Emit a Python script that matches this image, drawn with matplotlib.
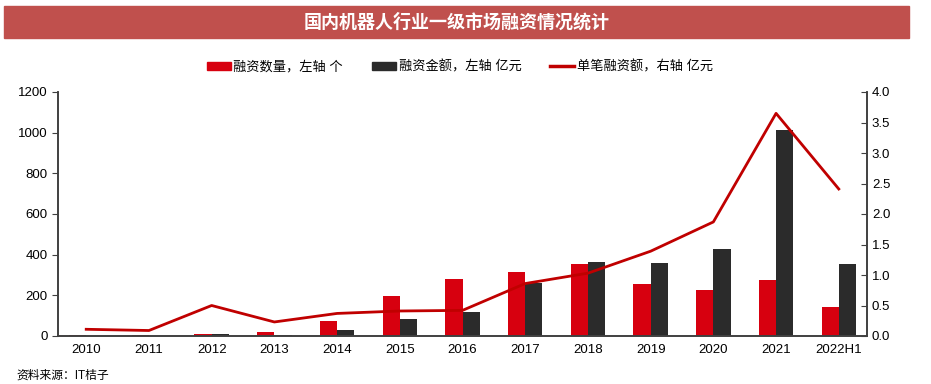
import numpy as np
import matplotlib.pyplot as plt
from matplotlib.patches import Rectangle, Patch
from matplotlib.lines import Line2D

plt.rcParams['font.family'] = ['Liberation Sans', 'Noto Sans CJK SC', 'DejaVu Sans']

# -------------------------------------------------------------------
# data
# -------------------------------------------------------------------
years = ["2010", "2011", "2012", "2013", "2014", "2015", "2016",
         "2017", "2018", "2019", "2020", "2021", "2022H1"]
deal_count = [6, 5, 8, 21, 74, 197, 279, 315, 352, 257, 226, 275, 143]
deal_amount = [2, 2, 8, 7, 29, 84, 118, 261, 364, 359, 428, 1013, 354]
avg_deal = [0.11, 0.09, 0.50, 0.23, 0.37, 0.41, 0.42, 0.86, 1.03, 1.39, 1.87, 3.65, 2.41]

title = "国内机器人行业一级市场融资情况统计"
legend_labels = ["融资数量，左轴 个", "融资金额，左轴 亿元", "单笔融资额，右轴 亿元"]
source = "资料来源：IT桔子"

red = "#D7000F"
dark = "#2B2B2B"
line_red = "#C00000"
axis_grey = "#404040"

# -------------------------------------------------------------------
# figure
# -------------------------------------------------------------------
fig = plt.figure(figsize=(9.31, 3.84), dpi=100)

# title banner
fig.patches.append(Rectangle((4 / 931, 1 - 38 / 384), 905 / 931, 32 / 384,
                             transform=fig.transFigure, color="#C0504D", zorder=0))
fig.text(457 / 931, 1 - 22 / 384, title, color="white", fontsize=13,
         fontweight="bold", ha="center", va="center")

ax = fig.add_axes([58 / 931, 48 / 384, 809 / 931, 244 / 384])
ax2 = ax.twinx()

x = np.arange(len(years))
w = 0.275
ax.bar(x - w / 2, deal_count, width=w, color=red, zorder=2)
ax.bar(x + w / 2, deal_amount, width=w, color=dark, zorder=2)
ax2.plot(x, avg_deal, color=line_red, linewidth=2)

ax.set_xlim(-0.45, len(years) - 0.55)
ax.set_ylim(0, 1200)
ax.set_yticks(np.arange(0, 1201, 200))
ax2.set_ylim(0, 4.0)
ax2.set_yticks(np.arange(0, 4.01, 0.5))
ax2.set_yticklabels([f"{v:.1f}" for v in np.arange(0, 4.01, 0.5)])

ax.set_xticks(x)
ax.set_xticklabels(years)
ax.tick_params(axis="x", length=0, labelsize=9.5, pad=6)
ax.tick_params(axis="y", direction="out", length=4, color=axis_grey, labelsize=9.5)
ax2.tick_params(axis="y", direction="in", length=4, color=axis_grey, labelsize=9.5)

for a in (ax, ax2):
    a.spines["top"].set_visible(False)
    for s in ("left", "right", "bottom"):
        a.spines[s].set_color(axis_grey)
        a.spines[s].set_linewidth(1.2)

# legend
handles = [Patch(color=red), Patch(color=dark),
           Line2D([0], [0], color=line_red, linewidth=2.5)]
fig.legend(handles, legend_labels, loc="center", bbox_to_anchor=(460 / 931, 1 - 67 / 384),
           ncol=3, frameon=False, fontsize=9.5, handlelength=1.8, handleheight=0.5,
           handletextpad=0.2, columnspacing=2.2)

fig.text(16 / 931, 1 - 376 / 384, source, fontsize=8.5, ha="left", va="center")

fig.savefig("out.png", dpi=100)
